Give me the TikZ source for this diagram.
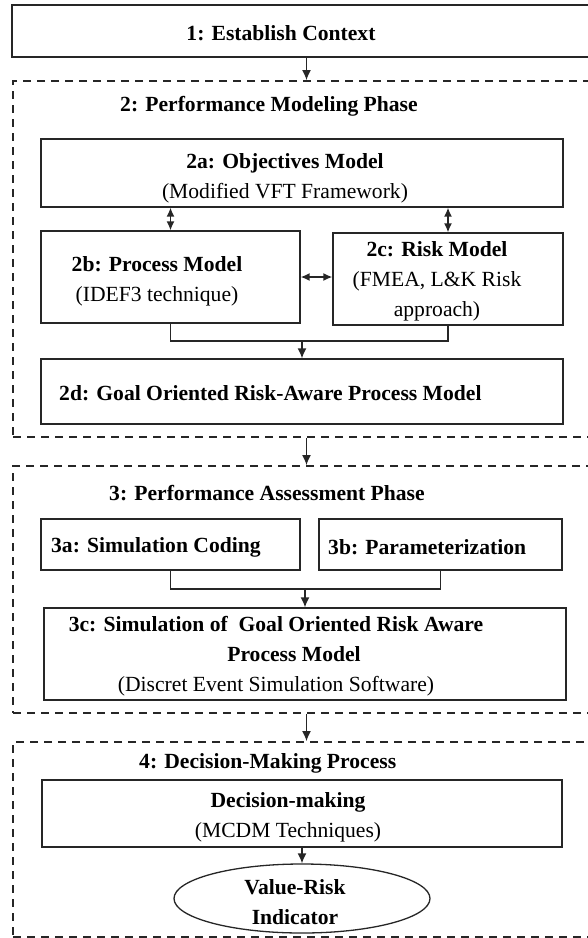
\documentclass[tikz,border=0pt]{standalone}
\usepackage{fontspec}
\setmainfont{Liberation Serif}
\usetikzlibrary{arrows.meta, shapes.geometric}

\begin{document}
\begin{tikzpicture}[x=1pt, y=-1pt,
	box/.style={draw=black!85, line width=1.3pt, inner sep=0pt},
	phase/.style={draw=black!85, line width=1.8pt, dash pattern=on 8pt off 6pt, inner sep=0pt},
	txt/.style={font=\fontsize{21.6}{30}\selectfont, align=center, inner sep=0pt},
	ttl/.style={txt, font=\fontsize{21.6}{30}\selectfont\bfseries, anchor=west},
	link/.style={draw=black!85, line width=1.5pt},
	arr/.style={link, -{Latex[length=10pt,width=9pt]}},
	dbl/.style={link, {Latex[length=9pt,width=8pt]}-{Latex[length=9pt,width=8pt]}}]
	\useasboundingbox (0,0) rectangle (587,938);

	\node[box, minimum width=588, minimum height=52] (ctx) at (306,31) {};
	\node[ttl, anchor=center] (ctx-t) at (281,33) {1: Establish Context};

	\node[phase, minimum width=587, minimum height=356] (ph2) at (306.5,259) {};
	\node[ttl] (ph2-t) at (120,106) {2: Performance Modeling Phase};
	\node[box, minimum width=522, minimum height=68] (obj) at (302,173) {};
	\node[txt] (obj-t) at (285,178) {\textbf{2a: Objectives Model}\\(Modified VFT Framework)};
	\node[box, minimum width=259, minimum height=92] (proc) at (170.5,277) {};
	\node[txt] (proc-t) at (157,281) {\textbf{2b: Process Model}\\(IDEF3 technique)};
	\node[box, minimum width=230, minimum height=92] (risk) at (448,279) {};
	\node[txt] (risk-t) at (437,281) {\textbf{2c: Risk Model}\\(FMEA, L\&K Risk\\approach)};
	\node[box, minimum width=522, minimum height=65] (gora) at (302,391.5) {};
	\node[ttl] (gora-t) at (59,393) {2d: Goal Oriented Risk-Aware Process Model};

	\node[phase, minimum width=587, minimum height=247] (ph3) at (306.5,589.5) {};
	\node[ttl] (ph3-t) at (109,493) {3: Performance Assessment Phase};
	\node[box, minimum width=259, minimum height=51] (code) at (170.5,544.5) {};
	\node[ttl] (code-t) at (51,547) {3a: Simulation Coding};
	\node[box, minimum width=243, minimum height=51] (param) at (440.5,544.5) {};
	\node[ttl] (param-t) at (328,547) {3b: Parameterization};
	\node[box, minimum width=522, minimum height=92] (sim) at (305,654) {};
	\node[txt] (sim-t) at (276,656) {\textbf{3c: Simulation of~ Goal Oriented Risk Aware}\\\hspace*{36pt}\textbf{Process Model}\\(Discret Event Simulation Software)};

	\node[phase, minimum width=587, minimum height=195] (ph4) at (306.5,839.5) {};
	\node[ttl] (ph4-t) at (139,763) {4: Decision-Making Process};
	\node[box, minimum width=520, minimum height=67] (dec) at (302,813.5) {};
	\node[txt] (dec-t) at (288,817) {\textbf{Decision-making}\\(MCDM Techniques)};
	\node[box, ellipse, minimum width=256, minimum height=69] (vri) at (302,898.5) {};
	\node[txt, font=\fontsize{21.6}{30}\selectfont\bfseries] (vri-t) at (295,902) {Value-Risk\\Indicator};

	\coordinate (j2) at (302,341);
	\coordinate (j3) at (305,589);

	\draw[arr] (ctx.south -| ph2.north) -- (ph2.north);
	\draw[dbl] (obj.south -| proc.north) -- (proc.north);
	\draw[dbl] (obj.south -| risk.north) -- (risk.north);
	\draw[dbl] (proc.east) -- (proc.east -| risk.west);
	\draw[link] (proc.south) |- (j2) -| (risk.south);
	\draw[arr] (j2) -- (gora.north);
	\draw[arr] (ph2.south) -- (ph3.north);
	\draw[link] (code.south) |- (j3) -| (param.south);
	\draw[arr] (j3) -- (sim.north);
	\draw[arr] (ph3.south) -- (ph4.north);
	\draw[arr] (dec.south) -- (vri.north);
\end{tikzpicture}
\end{document}
